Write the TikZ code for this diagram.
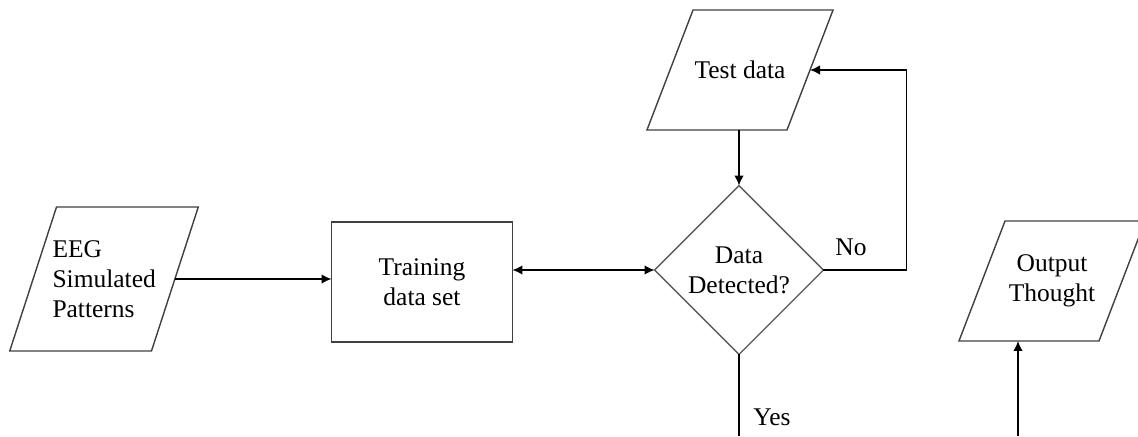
\documentclass[tikz,border=0pt]{standalone}
\usepackage{fontspec}
\setmainfont{Liberation Serif}
\usetikzlibrary{shapes.geometric,arrows.meta}

% fixed-size text block for the input/output shapes
\newcommand{\iotext}[3]{\parbox[c][#1][c]{2.2cm}{#2#3}}

\begin{document}
\begin{tikzpicture}[x=0.02cm,y=-0.02cm,
  every node/.style={font=\fontsize{14.5}{17}\selectfont, outer sep=0pt, inner sep=0pt},
  io/.style={trapezium, trapezium left angle=69, trapezium right angle=111,
    draw=black!75, thick, inner ysep=0pt, inner xsep=-0.16cm},
  box/.style={rectangle, draw=black!75, thick, minimum width=3.62cm, minimum height=2.4cm, align=center},
  decide/.style={diamond, aspect=1, draw=black!65, thick, minimum size=3.38cm, align=center},
  arr/.style={thick, -{Latex[length=2mm,width=1.9mm]}},
  dblarr/.style={thick, {Latex[length=2mm,width=1.9mm]}-{Latex[length=2mm,width=1.9mm]}}]

\useasboundingbox (0,0) rectangle (1138,436);

\node[io, trapezium left angle=72, trapezium right angle=108, inner xsep=-0.15cm]
  (eeg) at (104,279) {\iotext{2.88cm}{\raggedright\leftskip=0.07cm}{EEG\\Simulated\\Patterns}};
\node[box]    (train) at (422,282) {Training\\data set};
\node[decide] (dec)   at (739,270) {Data\\Detected?};
\node[io]     (test)  at (740,70)  {\iotext{2.4cm}{\centering}{Test data}};
\node[io]     (out)   at (1052,281) {\iotext{2.4cm}{\centering}{Output\\Thought}};

\coordinate (yesend) at (739,436);
\coordinate (outstart) at (1018,436);

\draw[arr] (eeg.east) -- (eeg.east -| train.west);
\draw[dblarr] (dec.west -| train.east) -- (dec.west);
\draw[arr] (dec.north |- test.south) -- (dec.north);
\draw[arr] (dec.east) -- ++(83,0) |- (test.east);
\draw[thick] (dec.south) -- (yesend);
\draw[arr] (outstart) -- (outstart |- out.south);

\node (no)  at (851,247) {No};
\node (yes) at (772,417) {Yes};
\end{tikzpicture}
\end{document}
